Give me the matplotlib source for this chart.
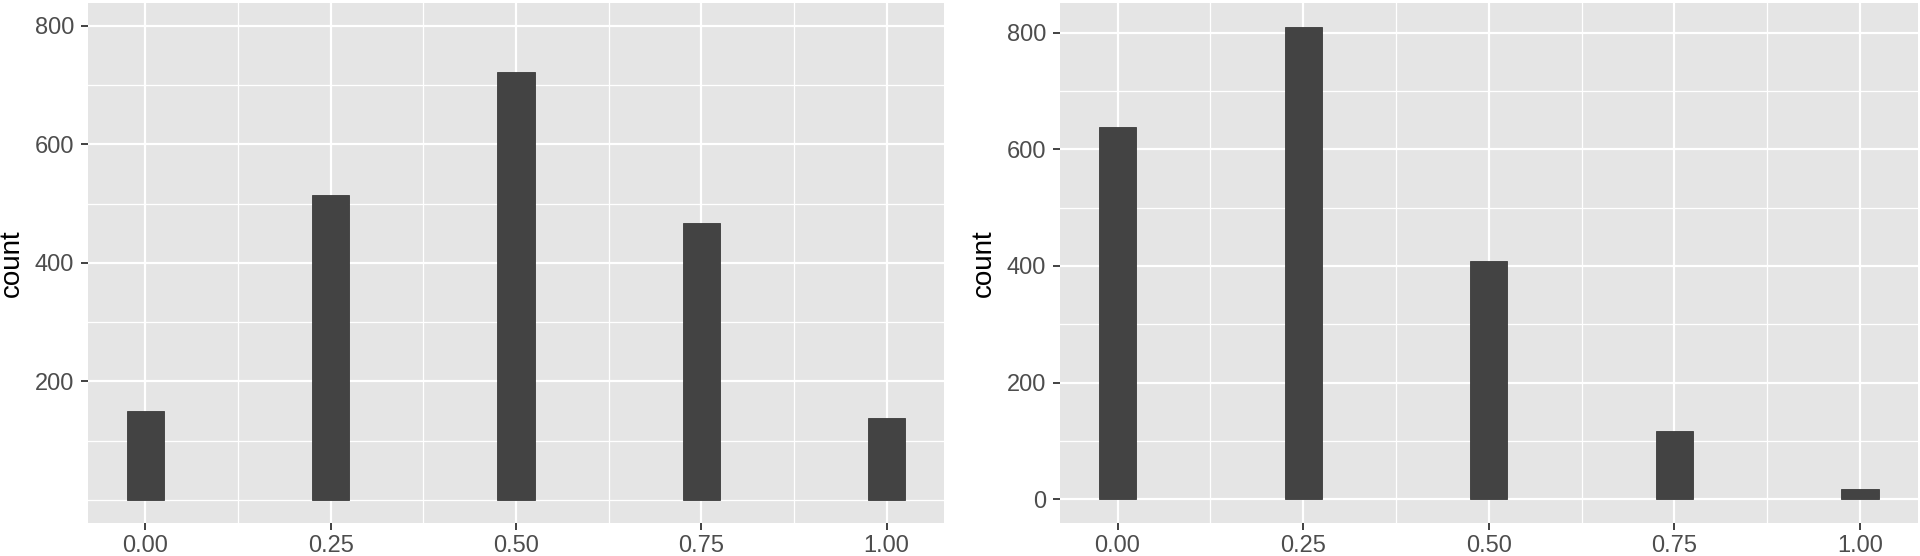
import matplotlib
matplotlib.use("Agg")
import matplotlib.pyplot as plt
import numpy as np

plt.rcParams["font.family"] = ["Liberation Sans", "DejaVu Sans"]

# data
x_bins = [0.00, 0.25, 0.50, 0.75, 1.00]
left_counts = [150, 514, 722, 468, 139]
right_counts = [638, 810, 408, 117, 18]
x_ticks = [0.00, 0.25, 0.50, 0.75, 1.00]
x_ticklabels = ["0.00", "0.25", "0.50", "0.75", "1.00"]
left_yticks = [200, 400, 600, 800]
right_yticks = [0, 200, 400, 600, 800]

W, H = 1920, 556
fig = plt.figure(figsize=(W / 100, H / 100), dpi=100)

def px_axes(x0, x1, y0, y1):
    return fig.add_axes([x0 / W, 1 - y1 / H, (x1 - x0) / W, (y1 - y0) / H])

def gg_panel(ax, counts, yticks, ylim):
    ax.set_facecolor("#E5E5E5")
    for s in ax.spines.values():
        s.set_visible(False)
    ax.bar(x_bins, counts, width=0.05, color="#434343", edgecolor="#3a3a3a", linewidth=0.6, zorder=3)
    ax.set_xlim(-0.0775, 1.0775)
    ax.set_ylim(*ylim)
    ax.set_xticks(x_ticks)
    ax.set_xticklabels(x_ticklabels)
    ax.set_yticks(yticks)
    ax.set_xticks([0.125, 0.375, 0.625, 0.875], minor=True)
    ax.set_yticks([0, 100, 300, 500, 700], minor=True)
    ax.grid(which="major", color="white", linewidth=1.6, zorder=1)
    ax.grid(which="minor", color="white", linewidth=0.9, zorder=1)
    ax.set_axisbelow(True)
    ax.tick_params(which="major", length=5, width=1.3, color="#333333",
                   labelsize=17, labelcolor="#4D4D4D", pad=4)
    ax.tick_params(axis="y", pad=5)
    ax.tick_params(which="minor", length=0)
    ax.set_ylabel("count", fontsize=20, color="black", labelpad=7)

ax1 = px_axes(88, 944, 3.3, 522.7)
gg_panel(ax1, left_counts, left_yticks, (-38.3, 838))

ax2 = px_axes(1060, 1917.6, 3.3, 522.7)
gg_panel(ax2, right_counts, right_yticks, (-40.5, 850.5))

fig.savefig("out.png", dpi=100, facecolor="white")
